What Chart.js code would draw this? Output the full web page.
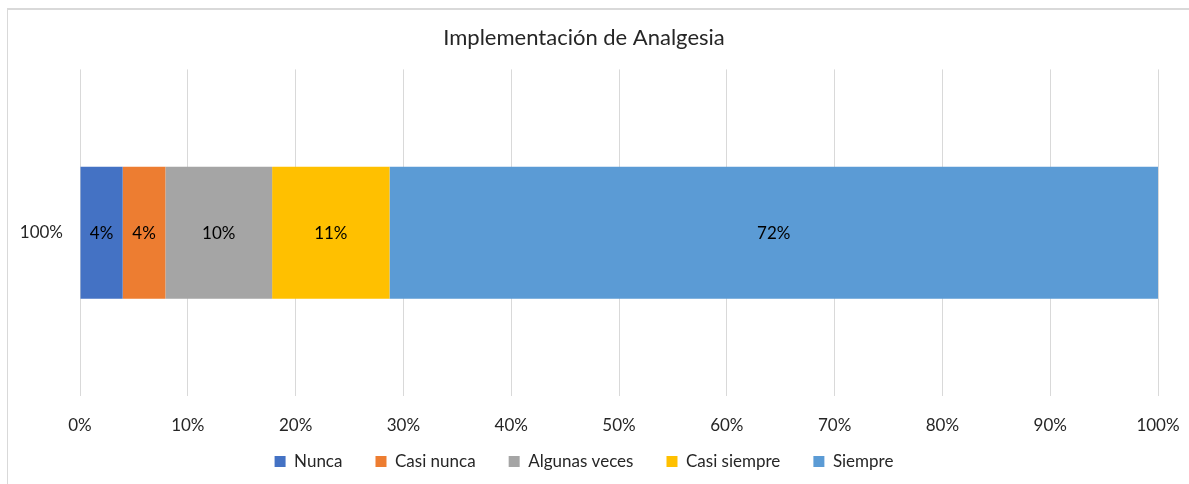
<!DOCTYPE html>
<html>
<head>
<meta charset="utf-8">
<script src="https://cdn.jsdelivr.net/npm/chart.js@4.4.1/dist/chart.umd.min.js"></script>
<style>
  html, body { margin: 0; padding: 0; background: #ffffff; }
  #frame {
    position: absolute; left: 7px; top: 8px; width: 1200px; height: 500px;
    border-left: 1px solid #d9d9d9; border-top: 2px solid #d9d9d9;
  }
  #wrap { position: absolute; left: 0; top: 0; width: 1189px; height: 484px; }
</style>
</head>
<body>
<div id="frame"></div>
<div id="wrap"><canvas id="chart"></canvas></div>
<script>
// Survey answers for "Implementación de Analgesia" (percent of respondents)
const categories = ['100%'];
const seriesNames = ['Nunca', 'Casi nunca', 'Algunas veces', 'Casi siempre', 'Siempre'];
const seriesValues = [4, 4, 10, 11, 72];
const seriesColors = ['#4472C4', '#ED7D31', '#A5A5A5', '#FFC000', '#5B9BD5'];
const tickValues = [0, 10, 20, 30, 40, 50, 60, 70, 80, 90, 100];

const FONT = 'Lato, "Noto Sans", sans-serif';
const TEXT = '#262626';

// 100% stacked: every series is scaled by the total so the bar fills the axis
const total = seriesValues.reduce((a, b) => a + b, 0);

const datasets = seriesNames.map((name, i) => ({
    label: name,
    data: [seriesValues[i] / total * 100],
    rawValue: seriesValues[i],
    backgroundColor: seriesColors[i],
    borderWidth: 0,
    barPercentage: 0.404,
    categoryPercentage: 1
}));

// Labels in the middle of each segment
const segmentLabels = {
    id: 'segmentLabels',
    afterDatasetsDraw(chart) {
        const ctx = chart.ctx;
        ctx.save();
        ctx.font = '17px ' + FONT;
        ctx.fillStyle = '#000000';
        ctx.textAlign = 'center';
        ctx.textBaseline = 'middle';
        chart.data.datasets.forEach((ds, i) => {
            const meta = chart.getDatasetMeta(i);
            meta.data.forEach(bar => {
                const p = bar.getCenterPoint();
                ctx.fillText(ds.rawValue + '%', p.x, p.y + 1);
            });
        });
        ctx.restore();
    }
};

new Chart(document.getElementById('chart'), {
    type: 'bar',
    data: { labels: categories, datasets: datasets },
    plugins: [segmentLabels],
    options: {
        indexAxis: 'y',
        responsive: true,
        maintainAspectRatio: false,
        animation: false,
        layout: { padding: { left: 10, right: 31, top: 0, bottom: 4 } },
        scales: {
            x: {
                stacked: true,
                min: 0,
                max: 100,
                afterBuildTicks(scale) {
                    scale.ticks = tickValues.map(v => ({ value: v }));
                },
                afterFit(scale) {
                    scale.height = 37;
                    scale.paddingLeft = 0;
                    scale.paddingRight = 0;
                },
                grid: { color: '#d9d9d9', drawTicks: false },
                border: { display: false },
                ticks: {
                    padding: 19,
                    color: TEXT,
                    font: { family: FONT, size: 17 },
                    callback: v => v + '%'
                }
            },
            y: {
                stacked: true,
                afterFit(scale) { scale.width = 70; },
                grid: { display: false },
                border: { display: false },
                ticks: {
                    padding: 9,
                    color: TEXT,
                    font: { family: FONT, size: 17 }
                }
            }
        },
        plugins: {
            title: {
                display: true,
                text: 'Implementación de Analgesia',
                color: TEXT,
                font: { family: FONT, size: 22, weight: 'normal' },
                padding: { top: 25, bottom: 18 }
            },
            legend: {
                position: 'bottom',
                labels: {
                    color: TEXT,
                    font: { family: FONT, size: 17 },
                    boxWidth: 11,
                    boxHeight: 11,
                    padding: 20,
                    // a little extra room after each entry but the last
                    generateLabels(chart) {
                        const items = Chart.defaults.plugins.legend.labels.generateLabels(chart);
                        items.forEach((item, i) => {
                            if (i < items.length - 1) item.text += '   ';
                        });
                        return items;
                    }
                }
            },
            tooltip: { enabled: false }
        }
    }
});
</script>
</body>
</html>
